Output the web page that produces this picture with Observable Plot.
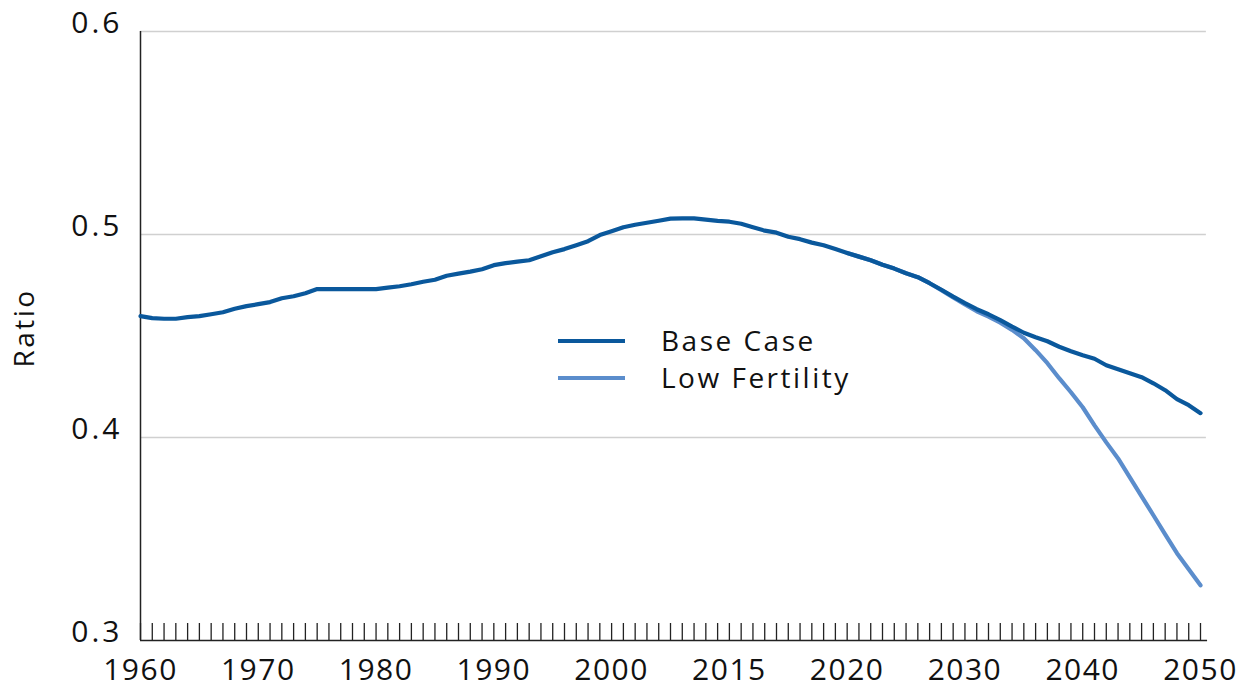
<!DOCTYPE html>
<html>
<head>
<meta charset="utf-8">
<script src="https://cdn.jsdelivr.net/npm/d3@7"></script>
<script src="https://cdn.jsdelivr.net/npm/@observablehq/plot@0.6"></script>
<style>
  body { margin: 0; background: #fff; }
  #wrap { position: relative; width: 1258px; height: 690px; font-family: "Open Sans", sans-serif; }
  #wrap svg g[aria-label="x-axis tick label"] text { letter-spacing: 1.5px; }
  #wrap svg g[aria-label="y-axis tick label"] text { letter-spacing: 3px; }
  #wrap svg g[aria-label="text"] text { letter-spacing: 2.5px; }
  .legend { position: absolute; left: 558px; top: 322px; }
  .legend .row { display: flex; align-items: center; height: 37px; }
  .legend .sw { width: 67px; height: 4px; margin-right: 36px; }
  .legend .lab { font-size: 28px; letter-spacing: 2.5px; color: #111; line-height: 37px; }
</style>
</head>
<body>
<div id="wrap"></div>
<script>
const years = [
  1960,1961,1962,1963,1964,1965,1966,1967,1968,1969,
  1970,1971,1972,1973,1974,1975,1976,1977,1978,1979,
  1980,1981,1982,1983,1984,1985,1986,1987,1988,1989,
  1990,1991,1992,1993,1994,1995,1996,1997,1998,1999,
  2000,2001,2002,2003,2004,2005,2006,2007,2008,2009,
  2010,2011,2012,2013,2014,2015,2016,2017,2018,2019,
  2020,2021,2022,2023,2024,2025,2026,2027,2028,2029,
  2030,2031,2032,2033,2034,2035,2036,2037,2038,2039,
  2040,2041,2042,2043,2044,2045,2046,2047,2048,2049,
  2050
];
const baseCase = [
  0.4598,0.4588,0.4585,0.4585,0.4593,0.4598,0.4607,0.4617,0.4634,0.4647,
  0.4657,0.4667,0.4686,0.4696,0.4711,0.4731,0.4731,0.4731,0.4731,0.4731,
  0.4731,0.4738,0.4745,0.4755,0.4767,0.4777,0.4797,0.4807,0.4817,0.4829,
  0.4849,0.4859,0.4866,0.4873,0.4893,0.4913,0.4928,0.4947,0.4967,0.4997,
  0.5016,0.5036,0.5048,0.5058,0.5068,0.5078,0.5079,0.5079,0.5073,0.5067,
  0.5063,0.5053,0.5036,0.5019,0.5009,0.4989,0.4977,0.4960,0.4947,0.4928,
  0.4909,0.4891,0.4873,0.4851,0.4832,0.4809,0.4790,0.4760,0.4728,0.4694,
  0.4662,0.4632,0.4607,0.4578,0.4546,0.4516,0.4494,0.4474,0.4447,0.4425,
  0.4405,0.4388,0.4356,0.4336,0.4317,0.4297,0.4267,0.4233,0.4189,0.4159,
  0.4120
];
const lowYears = [
  2020,2021,2022,2023,2024,2025,2026,2027,2028,2029,
  2030,2031,2032,2033,2034,2035,2036,2037,2038,2039,
  2040,2041,2042,2043,2044,2045,2046,2047,2048,2049,
  2050
];
const lowFertility = [
  0.4909,0.4891,0.4873,0.4851,0.4832,0.4809,0.4790,0.4760,0.4726,0.4690,
  0.4656,0.4622,0.4596,0.4566,0.4530,0.4489,0.4430,0.4366,0.4292,0.4223,
  0.4149,0.4060,0.3976,0.3897,0.3804,0.3710,0.3617,0.3523,0.3430,0.3351,
  0.3272
];
const yTicks = [0.3, 0.4, 0.5, 0.6];
const gridTicks = [0.4, 0.5, 0.6];
const xTickYears = [1960, 1970, 1980, 1990, 2000, 2010, 2020, 2030, 2040, 2050];
const xTickLabels = ["1960", "1970", "1980", "1990", "2000", "2015", "2020", "2030", "2040", "2050"];
const seriesNames = ["Base Case", "Low Fertility"];
const seriesColors = ["#0a589c", "#5b8dcc"];

const baseData = years.map((y, i) => ({year: y, value: baseCase[i]}));
const lowData = lowYears.map((y, i) => ({year: y, value: lowFertility[i]}));
const labelMap = new Map(xTickYears.map((y, i) => [y, xTickLabels[i]]));

const chart = Plot.plot({
  width: 1258,
  height: 690,
  marginLeft: 140,
  marginRight: 58,
  marginTop: 31,
  marginBottom: 50,
  style: {fontFamily: '"Open Sans", sans-serif', background: "white", overflow: "visible", color: "#111"},
  x: {domain: [1960, 2050]},
  y: {domain: [0.3, 0.6]},
  marks: [
    Plot.ruleY(gridTicks, {x1: 1960, x2: 2050.5, stroke: "#d0d0d0", strokeWidth: 1.5}),
    Plot.axisY(yTicks, {tickSize: 0, tickPadding: 18, fontSize: 30, dy: -8, tickFormat: d3.format(".1f"), label: null}),
    Plot.text(["Ratio"], {frameAnchor: "left", textAnchor: "middle", dx: -115, dy: -8, rotate: -90, fontSize: 28, fill: "#111"}),
    Plot.axisX(years, {tickSize: 17, dy: -17, tickFormat: () => "", stroke: "#222", strokeWidth: 1.3, label: null}),
    Plot.axisX(xTickYears, {tickSize: 0, tickPadding: 18, fontSize: 30, tickFormat: d => labelMap.get(d), label: null}),
    Plot.ruleX([1960], {y1: 0.3, y2: 0.6, stroke: "#222", strokeWidth: 1.5}),
    Plot.ruleY([0.3], {x1: 1960, x2: 2050.6, stroke: "#222", strokeWidth: 1.5}),
    Plot.line(lowData, {x: "year", y: "value", stroke: seriesColors[1], strokeWidth: 4.2}),
    Plot.line(baseData, {x: "year", y: "value", stroke: seriesColors[0], strokeWidth: 4.2})
  ]
});

const wrap = document.getElementById("wrap");
wrap.appendChild(chart);

const legend = document.createElement("div");
legend.className = "legend";
seriesNames.forEach((name, i) => {
  const row = document.createElement("div");
  row.className = "row";
  const sw = document.createElement("div");
  sw.className = "sw";
  sw.style.background = seriesColors[i];
  const lab = document.createElement("span");
  lab.className = "lab";
  lab.textContent = name;
  row.appendChild(sw);
  row.appendChild(lab);
  legend.appendChild(row);
});
wrap.appendChild(legend);
</script>
</body>
</html>
